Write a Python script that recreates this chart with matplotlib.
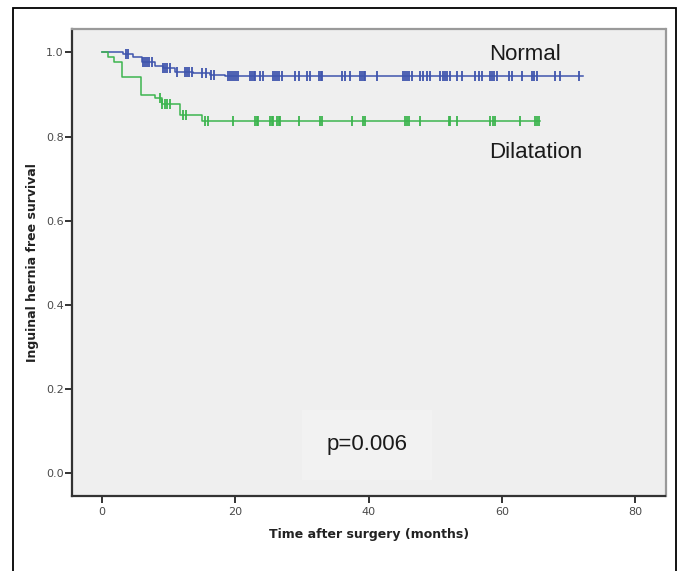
import numpy as np
import matplotlib
matplotlib.use("Agg")
import matplotlib.pyplot as plt
from matplotlib.patches import Rectangle

# ---- data ----
normal_event_t = [0, 3.2, 4.7, 6.0, 8.0, 9.2, 11.0, 13.7, 16.2, 18.5]
normal_event_s = [1.0, 0.996, 0.990, 0.978, 0.967, 0.962, 0.954, 0.950, 0.946, 0.943]
normal_end = 72.2
normal_censor = [3.6, 4.0, 6.2, 6.5, 6.8, 7.1, 7.5, 9.2, 9.5, 9.8, 10.2, 11.3,
                 12.5, 12.8, 13.1, 13.5, 15.0, 15.6, 16.4, 16.8, 19.0, 19.3, 19.6,
                 19.9, 20.2, 20.5, 22.2, 22.5, 22.8, 23.0, 23.7, 24.2, 25.7, 26.0,
                 26.3, 26.6, 27.0, 29.0, 29.5, 30.7, 31.2, 32.5, 32.8, 33.0, 36.0,
                 36.5, 37.2, 38.7, 39.0, 39.3, 39.5, 41.2, 45.2, 45.5, 45.8, 46.1,
                 46.5, 47.7, 48.2, 48.8, 49.2, 50.7, 51.2, 51.5, 51.8, 52.2, 53.2,
                 54.0, 56.0, 56.5, 57.0, 58.2, 58.5, 58.8, 59.2, 61.0, 61.5, 63.0,
                 64.5, 64.8, 65.2, 68.0, 68.7, 71.5]

dilat_event_t = [0, 1.0, 1.9, 3.0, 5.9, 8.0, 9.0, 11.8, 15.0]
dilat_event_s = [1.0, 0.989, 0.978, 0.942, 0.899, 0.891, 0.877, 0.851, 0.837]
dilat_end = 65.7
dilat_censor = [8.7, 9.1, 9.5, 9.8, 10.2, 12.2, 12.7, 15.5, 16.0, 19.7, 23.0,
                23.3, 23.5, 25.2, 25.5, 25.7, 26.2, 26.5, 26.7, 29.5, 32.7, 33.0,
                37.5, 39.2, 39.5, 45.5, 45.8, 46.0, 47.7, 52.0, 52.2, 53.2, 58.2,
                58.6, 59.0, 62.7, 65.0, 65.3, 65.5]

labels = ["Normal", "Dilatation"]
p_text = "p=0.006"
x_ticks = [0, 20, 40, 60, 80]
y_ticks = [0.0, 0.2, 0.4, 0.6, 0.8, 1.0]

blue = "#3f55ad"
green = "#3db54f"

fig = plt.figure(figsize=(6.81, 5.71), dpi=100)
fig.patch.set_facecolor("white")

# outer frame (bottom edge runs off the image)
fig.patches.append(Rectangle((12.5 / 681, -0.02), (676 - 12.5) / 681,
                             1.02 - 7.5 / 571, transform=fig.transFigure,
                             fill=False, edgecolor="black", linewidth=1.3))

ax = fig.add_axes([72 / 681, 1 - 496 / 571, (665.5 - 72) / 681, (496 - 29.3) / 571])
ax.set_facecolor("#efefef")


def draw(ts, ss, end, cens, color):
    xs = list(ts) + [end]
    ys = list(ss) + [ss[-1]]
    ax.step(xs, ys, where="post", color=color, linewidth=1.1, zorder=3)
    idx = np.searchsorted(np.array(ts), np.array(cens), side="right") - 1
    cy = np.array(ss)[idx]
    ax.plot(cens, cy, linestyle="none", marker="|", markersize=7,
            markeredgewidth=1.3, color=color, zorder=4)


draw(normal_event_t, normal_event_s, normal_end, normal_censor, blue)
draw(dilat_event_t, dilat_event_s, dilat_end, dilat_censor, green)

ax.set_xlim(-4.45, 84.5)
ax.set_ylim(-0.054, 1.055)
ax.set_xticks(x_ticks)
ax.set_yticks(y_ticks)
ax.set_xticklabels([str(v) for v in x_ticks])
ax.set_yticklabels([f"{v:.1f}" for v in y_ticks])

for s in ["left", "bottom"]:
    ax.spines[s].set_color("#333333")
    ax.spines[s].set_linewidth(1.6)
for s in ["top", "right"]:
    ax.spines[s].set_color("#9a9a9a")
    ax.spines[s].set_linewidth(1.6)

ax.tick_params(axis="both", colors="#333333", width=1.4, length=5,
               labelsize=8, labelcolor="#4a4a4a")
ax.tick_params(axis="x", pad=3)
ax.tick_params(axis="y", pad=1)

ax.set_xlabel("Time after surgery (months)", fontsize=9, fontweight="bold",
              color="#222222", labelpad=8)
ax.set_ylabel("Inguinal hernia free survival", fontsize=9, fontweight="bold",
              color="#222222", labelpad=5)

ax.text(58.1, 0.995, labels[0], fontsize=16, family="Liberation Sans",
        color="#1a1a1a", va="center", ha="left")
ax.text(58.1, 0.763, labels[1], fontsize=16, family="Liberation Sans",
        color="#1a1a1a", va="center", ha="left")
ax.text(39.8, 0.068, p_text, fontsize=16, family="Liberation Sans",
        color="#1a1a1a", va="center", ha="center",
        bbox=dict(boxstyle="square,pad=1.1", facecolor="#f2f2f2",
                  edgecolor="none"))

fig.savefig("out.png", dpi=100)
